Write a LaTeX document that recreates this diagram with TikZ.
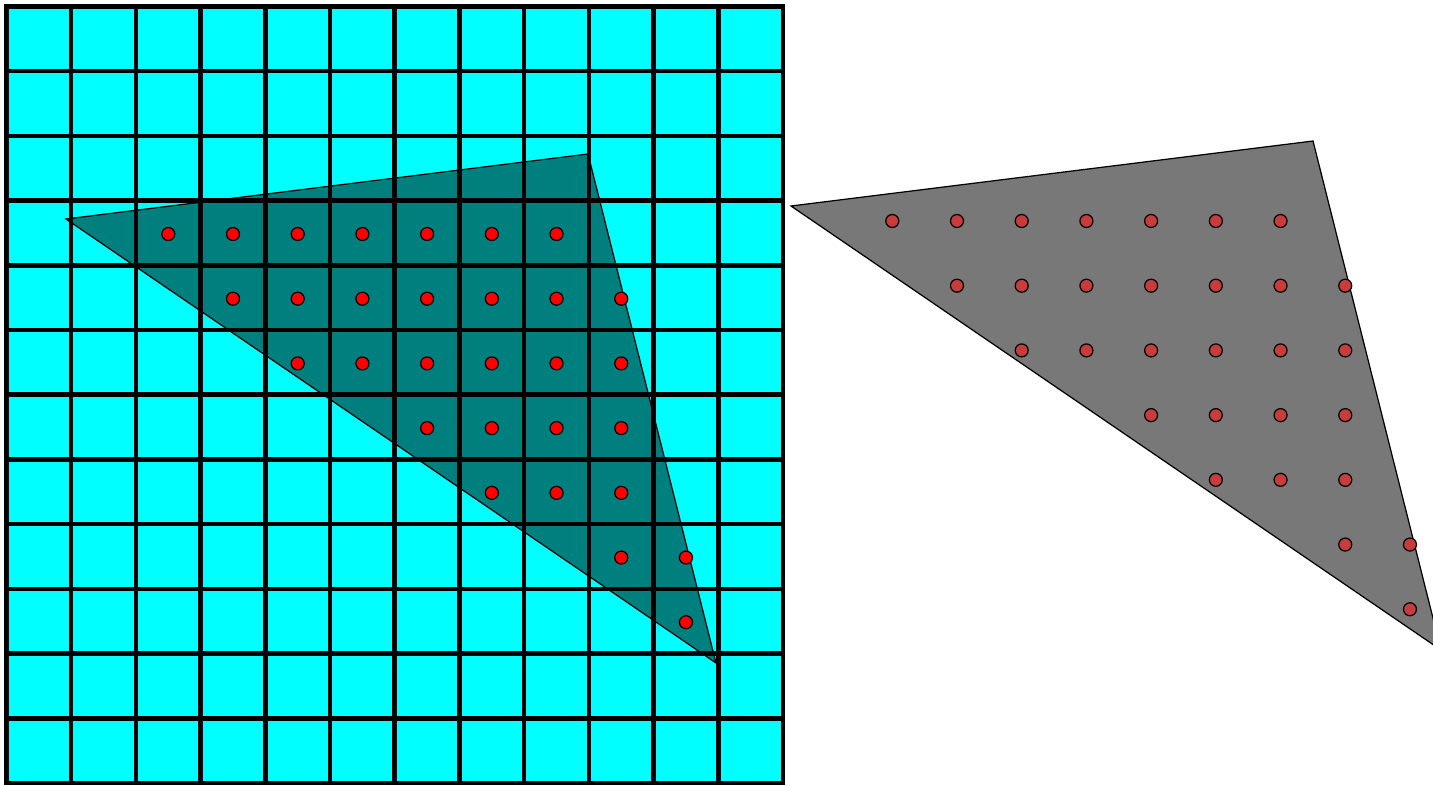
\documentclass[tikz,border=0pt]{standalone}
\usepackage{tikz}
\definecolor{gridcyan}{RGB}{0,255,255}
\definecolor{shadegray}{RGB}{120,120,120}
\definecolor{dotred}{RGB}{255,0,0}
\definecolor{dimred}{RGB}{200,60,60}

\begin{document}
\begin{tikzpicture}[x=0.02cm,y=-0.02cm,
  sample/.style={circle,draw,inner sep=0pt,minimum size=0.26cm,line width=0.7pt},
  gridline/.style={line width=2.6pt},
  edge/.style={draw,line width=0.7pt,line join=miter}]
\useasboundingbox (0,0) rectangle (1433,785);
\clip (0,0) rectangle (1433,785);
% pixel grid
\fill[gridcyan] (6.5,6.5) rectangle (783,783);
\foreach \k in {1,...,11}{
  \draw[gridline] ({6.5+64.71*\k},6.5) -- ({6.5+64.71*\k},783);
  \draw[gridline] (6.5,{6.5+64.71*\k}) -- (783,{6.5+64.71*\k});
}
\draw[gridline] (6.5,6.5) rectangle (783,783);
% triangle over the grid
\coordinate (A) at (66,219);
\coordinate (B) at (588,154);
\coordinate (C) at (716,663);
\fill[black,fill opacity=0.5] (A) -- (B) -- (C) -- cycle;
\draw[edge] (A) -- (B) -- (C) -- cycle;
\foreach \r/\a/\b in {3/2/8,4/3/9,5/4/9,6/6/9,7/7/9,8/9/10,9/10/10}
  \foreach \c in {\a,...,\b}
    \node[sample,fill=dotred] (p-\r-\c) at ({6.5+64.71*(\c+0.5)},{7.5+64.71*(\r+0.5)}) {};
% same triangle, shifted
\begin{scope}[shift={(725,-13)}]
\coordinate (A') at (66,219);
\coordinate (B') at (588,154);
\coordinate (C') at (716,663);
\fill[shadegray] (A') -- (B') -- (C') -- cycle;
\draw[edge] (A') -- (B') -- (C') -- cycle;
\foreach \r/\a/\b in {3/2/8,4/3/9,5/4/9,6/6/9,7/7/9,8/9/10,9/10/10}
  \foreach \c in {\a,...,\b}
    \node[sample,fill=dimred] (q-\r-\c) at ({6.5+64.71*(\c+0.5)-1},{7.5+64.71*(\r+0.5)}) {};
\end{scope}
\end{tikzpicture}
\end{document}
